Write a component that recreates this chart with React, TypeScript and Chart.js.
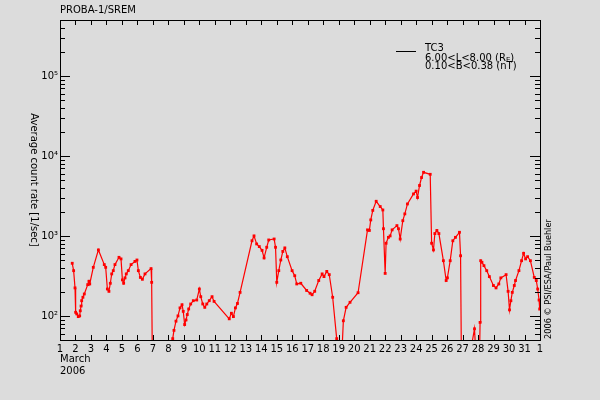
import React, { useEffect, useRef } from 'react';
import { Chart, registerables } from 'chart.js';

Chart.register(...registerables);

// Day of March 2006 (32 = 1 April)
const days = [
  1.79, 1.88, 1.97, 2.01, 2.08, 2.18, 2.27, 2.31, 2.36, 2.40, 2.48, 2.57, 2.79, 2.87, 2.92, 3.15, 3.48, 3.86, 3.95,
  4.06, 4.16, 4.25, 4.34, 4.44, 4.55, 4.81, 4.94, 5.03, 5.11, 5.20, 5.28, 5.41, 5.59, 5.84, 5.97, 6.06, 6.19, 6.32,
  6.49, 6.88, 6.92, 6.97, 8.20, 8.28, 8.36, 8.49, 8.62, 8.75, 8.88, 8.96, 9.05, 9.14, 9.22, 9.31, 9.44, 9.61, 9.83,
  10.0, 10.09, 10.22, 10.35, 10.48, 10.64, 10.82, 10.95, 11.93, 12.07, 12.2, 12.33, 12.46, 12.63, 13.4, 13.53, 13.7,
  13.87, 14.05, 14.18, 14.35, 14.48, 14.83, 14.92, 15.0, 15.13, 15.26, 15.39, 15.52, 15.68, 15.99, 16.16, 16.29,
  16.55, 16.93, 17.15, 17.28, 17.45, 17.71, 17.93, 18.05, 18.23, 18.39, 18.61, 18.87, 18.92, 19.15, 19.3, 19.48,
  19.73, 20.25, 20.86, 20.98, 21.07, 21.2, 21.42, 21.68, 21.85, 21.89, 22.0, 22.06, 22.21, 22.32, 22.45, 22.76,
  22.86, 22.97, 23.14, 23.27, 23.44, 23.83, 24.0, 24.09, 24.22, 24.35, 24.48, 24.91, 25.0, 25.12, 25.21, 25.34,
  25.47, 25.76, 25.94, 26.02, 26.2, 26.37, 26.54, 26.8, 26.87, 26.93, 27.28, 27.77, 27.92, 28.08, 28.13, 28.17,
  28.25, 28.38, 28.56, 28.73, 28.99, 29.16, 29.34, 29.47, 29.81, 29.94, 30.03, 30.12, 30.21, 30.34, 30.42, 30.64,
  30.81, 30.94, 31.07, 31.2, 31.38, 31.63, 31.76, 31.85, 31.94, 31.98,
];

// Average count rate [1/sec]
const counts = [
  455, 368, 224, 111, 106, 98, 100, 116, 133, 155, 171, 188, 246, 271, 251, 405, 668, 438, 405,
  217, 203, 256, 335, 368, 438, 540, 516, 282, 256, 299, 335, 368, 438, 480, 500, 368, 303, 287,
  335, 390, 263, 20, 20, 52, 66, 86, 100, 126, 138, 114, 78, 89, 104, 122, 141, 155, 158,
  217, 174, 141, 128, 141, 155, 174, 152, 92, 108, 98, 126, 143, 197, 870, 1000, 794,
  736, 660, 531, 721, 890, 915, 721, 263, 368, 500, 640, 708, 550, 368, 318, 251,
  256, 208, 192, 184, 203, 277, 335, 310, 360, 328, 171, 52, 20, 20, 87, 128,
  148, 195, 1190, 1170, 1585, 2085, 2710, 2330, 2110, 1230, 340, 810, 960, 1000, 1190, 1345,
  1230, 915, 1550, 1885, 2510, 3350, 3630, 3020, 4270, 5370, 6240, 5890, 810, 668, 1070, 1170,
  1070, 490, 277, 299, 490, 870, 960, 1110, 565, 20, 20, 69, 20, 20, 83, 490,
  468, 425, 368, 310, 240, 224, 251, 299, 328, 203, 119, 155, 197, 240, 277, 368,
  490, 606, 516, 550, 490, 303, 277, 217, 158, 122,
];

const xTicks = Array.from({ length: 32 }, (_, i) => i + 1);
const xTickLabels = xTicks.map((d) => (d === 32 ? '1' : String(d)));
const yDecades = [100, 1000, 10000, 100000];
const yDecadeLabels = ['10²', '10³', '10⁴', '10⁵'];
const titleText = 'PROBA-1/SREM';
const monthText = 'March';
const yearText = '2006';
const yTitle = 'Average count rate [1/sec]';
const creditText = '2006 © PSI/ESA/Paul Buehler';
const legendName = 'TC3';
const legendL = ['6.00<L<8.00 (R', 'E', ')'];
const legendB = '0.10<B<0.38 (nT)';

const FONT = "'DejaVu Sans', sans-serif";
const BG = '#dcdcdc';

const framePlugin = {
  id: 'frame',
  beforeDraw(chart: any) {
    const ctx = chart.ctx;
    ctx.save();
    ctx.fillStyle = BG;
    ctx.fillRect(0, 0, chart.width, chart.height);
    ctx.restore();
  },
  afterDraw(chart: any) {
    const ctx = chart.ctx;
    const a = chart.chartArea;
    const xs = chart.scales.x;
    const ys = chart.scales.y;
    ctx.save();
    ctx.strokeStyle = '#000';
    ctx.lineWidth = 1;
    ctx.strokeRect(Math.round(a.left) + 0.5, Math.round(a.top) + 0.5, Math.round(a.right - a.left), Math.round(a.bottom - a.top));
    ctx.beginPath();
    xTicks.forEach((d) => {
      const px = Math.round(xs.getPixelForValue(d)) + 0.5;
      ctx.moveTo(px, a.bottom);
      ctx.lineTo(px, a.bottom - 5);
      ctx.moveTo(px, a.top);
      ctx.lineTo(px, a.top + 5);
    });
    for (let e = 1; e <= 5; e++) {
      for (let m = 1; m <= 9; m++) {
        const v = m * Math.pow(10, e);
        if (v < ys.min || v > ys.max) continue;
        const py = Math.round(ys.getPixelForValue(v)) + 0.5;
        const len = m === 1 ? 10 : 5;
        ctx.moveTo(a.left, py);
        ctx.lineTo(a.left + len, py);
        ctx.moveTo(a.right, py);
        ctx.lineTo(a.right - len, py);
      }
    }
    ctx.stroke();

    ctx.fillStyle = '#000';
    ctx.font = `10px ${FONT}`;
    ctx.textBaseline = 'middle';
    ctx.textAlign = 'left';
    ctx.fillText(titleText, a.left, 10.5);
    ctx.fillText(monthText, a.left, 359);
    ctx.fillText(yearText, a.left, 371);

    ctx.beginPath();
    ctx.moveTo(396, 51.5);
    ctx.lineTo(416, 51.5);
    ctx.stroke();
    const lx = 425;
    ctx.fillText(legendName, lx, 48);
    ctx.fillText(legendL[0], lx, 58);
    const w = ctx.measureText(legendL[0]).width;
    ctx.font = `7px ${FONT}`;
    ctx.fillText(legendL[1], lx + w, 60);
    const w2 = ctx.measureText(legendL[1]).width;
    ctx.font = `10px ${FONT}`;
    ctx.fillText(legendL[2], lx + w + w2, 58);
    ctx.fillText(legendB, lx, 66.5);

    ctx.save();
    ctx.translate(33.5, (a.top + a.bottom) / 2);
    ctx.rotate(Math.PI / 2);
    ctx.textAlign = 'center';
    ctx.fillText(yTitle, 0, 0);
    ctx.restore();

    ctx.save();
    ctx.translate(549, a.bottom - 1);
    ctx.rotate(-Math.PI / 2);
    ctx.font = `8.2px ${FONT}`;
    ctx.textAlign = 'left';
    ctx.fillText(creditText, 0, 0);
    ctx.restore();

    ctx.restore();
  },
};

export default function App() {
  const ref = useRef<HTMLCanvasElement | null>(null);
  useEffect(() => {
    if (!ref.current) return;
    const chart = new Chart(ref.current, {
      type: 'line',
      data: {
        datasets: [
          {
            label: legendName,
            data: days.map((d, i) => ({ x: d, y: counts[i] })),
            borderColor: '#ff0000',
            backgroundColor: '#ff0000',
            borderWidth: 1.2,
            pointStyle: 'rect',
            pointRadius: 2,
            pointBorderWidth: 0,
            pointBackgroundColor: '#ff0000',
            tension: 0,
          },
        ],
      },
      options: {
        animation: false,
        responsive: false,
        devicePixelRatio: 1,
        layout: { padding: { top: 20, right: 60, left: 0, bottom: 0 } },
        plugins: { legend: { display: false }, tooltip: { enabled: false }, title: { display: false } },
        scales: {
          x: {
            type: 'linear',
            min: 1,
            max: 32,
            grid: { display: false, drawTicks: false },
            border: { display: false },
            afterBuildTicks: (s: any) => {
              s.ticks = xTicks.map((v) => ({ value: v }));
            },
            afterFit: (s: any) => {
              s.height = 60;
            },
            ticks: {
              autoSkip: false,
              maxRotation: 0,
              padding: 3,
              color: '#000',
              font: { family: FONT, size: 10 },
              callback: (v: any) => xTickLabels[xTicks.indexOf(Number(v))] ?? '',
            },
          },
          y: {
            type: 'logarithmic',
            min: 50,
            max: 500000,
            grid: { display: false, drawTicks: false },
            border: { display: false },
            afterBuildTicks: (s: any) => {
              s.ticks = yDecades.map((v) => ({ value: v, major: true }));
            },
            afterFit: (s: any) => {
              s.width = 60;
            },
            ticks: {
              autoSkip: false,
              padding: 2,
              color: '#000',
              font: { family: FONT, size: 10 },
              callback: (v: any) => yDecadeLabels[yDecades.indexOf(Number(v))] ?? '',
            },
          },
        },
      },
      plugins: [framePlugin],
    });
    return () => chart.destroy();
  }, []);
  return (
    <div style={{ position: 'fixed', left: 0, top: 0, width: 600, height: 400, background: BG }}>
      <canvas ref={ref} width={600} height={400} style={{ display: 'block' }} />
    </div>
  );
}
